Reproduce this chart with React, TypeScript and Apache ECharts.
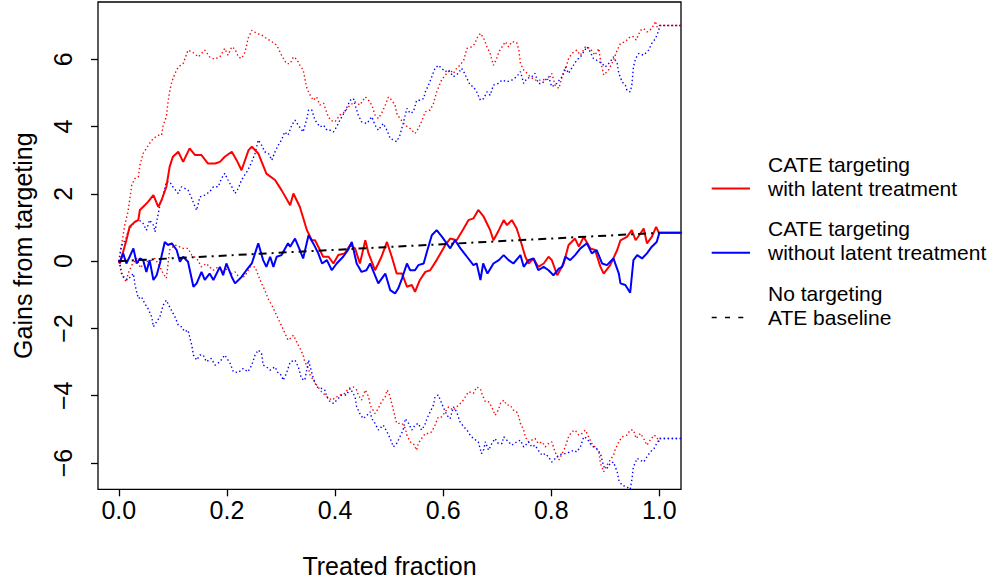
import React, { useEffect, useRef } from "react";
import * as echarts from "echarts";

// ---- data ----
const redSolidX = [0, 0.002, 0.014, 0.02, 0.03, 0.036, 0.039, 0.048, 0.054, 0.064, 0.073, 0.079, 0.088, 0.094, 0.1, 0.11, 0.119, 0.131, 0.141, 0.153, 0.165, 0.178, 0.187, 0.196, 0.209, 0.218, 0.227, 0.24, 0.246, 0.258, 0.273, 0.289, 0.301, 0.317, 0.323, 0.335, 0.348, 0.357, 0.363, 0.372, 0.378, 0.388, 0.397, 0.406, 0.418, 0.428, 0.437, 0.446, 0.456, 0.462, 0.474, 0.486, 0.496, 0.505, 0.514, 0.524, 0.533, 0.542, 0.548, 0.557, 0.567, 0.576, 0.588, 0.604, 0.613, 0.625, 0.638, 0.647, 0.656, 0.665, 0.675, 0.684, 0.687, 0.693, 0.703, 0.712, 0.718, 0.727, 0.736, 0.743, 0.752, 0.758, 0.767, 0.776, 0.786, 0.795, 0.801, 0.811, 0.823, 0.832, 0.844, 0.851, 0.86, 0.872, 0.881, 0.891, 0.897, 0.909, 0.922, 0.928, 0.94, 0.949, 0.956, 0.965, 0.971, 0.977, 0.986, 0.994, 0.999, 1.05];
const redSolidY = [0, -0.07, 0.62, 1.02, 1.17, 1.22, 1.52, 1.66, 1.76, 1.96, 1.61, 1.81, 2.21, 2.8, 3.1, 3.25, 2.95, 3.35, 3.15, 3.15, 2.9, 2.9, 2.95, 3.1, 3.25, 3.0, 2.7, 3.3, 3.4, 3.2, 2.6, 2.41, 2.11, 1.66, 2.01, 1.61, 0.92, 0.62, 0.62, 0.33, 0.13, 0.13, -0.07, 0.18, 0.23, 0.48, 0.38, -0.07, 0.62, 0.23, -0.27, 0.13, 0.57, 0.13, -0.37, -0.37, -0.76, -0.71, -0.91, -0.56, -0.32, -0.27, 0.03, 0.48, 0.67, 0.62, 0.97, 1.22, 1.27, 1.52, 1.32, 1.02, 0.92, 0.62, 0.92, 1.22, 1.07, 1.22, 0.97, 0.62, 0.13, -0.07, 0.08, -0.17, -0.07, 0.13, 0.03, -0.42, -0.07, 0.48, 0.67, 0.43, 0.72, 0.38, 0.33, -0.17, -0.37, -0.12, 0.33, 0.62, 0.72, 0.92, 0.62, 0.82, 0.97, 0.53, 0.72, 1.02, 0.84, 0.84];

const blueSolidX = [0, 0.002, 0.008, 0.014, 0.02, 0.027, 0.033, 0.039, 0.045, 0.051, 0.057, 0.064, 0.07, 0.076, 0.085, 0.091, 0.098, 0.107, 0.113, 0.119, 0.128, 0.138, 0.144, 0.153, 0.159, 0.168, 0.175, 0.187, 0.193, 0.199, 0.209, 0.215, 0.227, 0.236, 0.246, 0.252, 0.258, 0.267, 0.273, 0.28, 0.286, 0.292, 0.301, 0.313, 0.317, 0.326, 0.335, 0.341, 0.351, 0.36, 0.369, 0.376, 0.385, 0.394, 0.403, 0.415, 0.424, 0.431, 0.44, 0.449, 0.458, 0.465, 0.48, 0.493, 0.502, 0.511, 0.517, 0.524, 0.533, 0.539, 0.548, 0.554, 0.564, 0.57, 0.579, 0.588, 0.598, 0.613, 0.622, 0.632, 0.644, 0.656, 0.662, 0.669, 0.674, 0.682, 0.693, 0.703, 0.712, 0.721, 0.73, 0.743, 0.749, 0.758, 0.767, 0.776, 0.786, 0.795, 0.804, 0.814, 0.82, 0.826, 0.835, 0.844, 0.854, 0.866, 0.875, 0.884, 0.894, 0.903, 0.915, 0.925, 0.928, 0.937, 0.946, 0.952, 0.959, 0.968, 0.977, 0.986, 0.995, 1.0, 1.05];
const blueSolidY = [0, -0.02, 0.23, -0.07, 0.13, 0.38, -0.07, 0.08, 0.03, -0.32, 0.03, -0.56, -0.42, -0.07, 0.57, 0.48, 0.53, 0.33, -0.02, 0.13, -0.02, -0.76, -0.66, -0.32, -0.56, -0.37, -0.56, -0.17, -0.42, -0.07, -0.47, -0.66, -0.47, -0.27, -0.07, 0.23, 0.53, 0.03, -0.17, 0.13, -0.17, 0.13, 0.18, 0.53, 0.43, 0.67, 0.33, 0.08, 0.77, 0.52, 0.23, -0.07, 0.03, -0.27, -0.07, 0.13, 0.33, 0.57, -0.07, -0.32, -0.27, -0.07, -0.66, -0.37, -0.86, -0.96, -0.81, -0.51, -0.07, -0.27, -0.27, -0.12, -0.07, 0.28, 0.77, 0.92, 0.72, 0.38, 0.62, 0.38, 0.13, -0.12, -0.07, -0.56, -0.07, -0.37, -0.07, 0.03, 0.18, 0.03, -0.07, 0.18, -0.17, 0.03, 0.08, -0.27, -0.17, -0.27, -0.42, -0.22, -0.17, 0.13, 0.03, 0.18, 0.38, 0.53, 0.23, 0.33, -0.07, -0.12, 0.08, -0.37, -0.66, -0.71, -0.94, 0.03, 0.18, 0.08, 0.23, 0.43, 0.57, 0.84, 0.84];

const redUpperX = [0, 0.005, 0.011, 0.017, 0.024, 0.03, 0.036, 0.039, 0.045, 0.051, 0.057, 0.064, 0.073, 0.079, 0.082, 0.088, 0.091, 0.094, 0.098, 0.104, 0.11, 0.119, 0.128, 0.137, 0.147, 0.159, 0.168, 0.177, 0.187, 0.196, 0.202, 0.209, 0.215, 0.221, 0.227, 0.233, 0.236, 0.239, 0.246, 0.255, 0.264, 0.273, 0.283, 0.292, 0.301, 0.31, 0.317, 0.323, 0.329, 0.335, 0.341, 0.348, 0.354, 0.36, 0.366, 0.372, 0.379, 0.385, 0.391, 0.4, 0.409, 0.418, 0.428, 0.437, 0.446, 0.456, 0.462, 0.468, 0.474, 0.48, 0.486, 0.493, 0.499, 0.505, 0.511, 0.514, 0.52, 0.53, 0.539, 0.548, 0.554, 0.56, 0.567, 0.576, 0.582, 0.588, 0.597, 0.604, 0.613, 0.619, 0.625, 0.631, 0.638, 0.644, 0.653, 0.659, 0.662, 0.669, 0.675, 0.681, 0.687, 0.693, 0.699, 0.703, 0.709, 0.715, 0.721, 0.727, 0.736, 0.74, 0.743, 0.749, 0.755, 0.761, 0.77, 0.78, 0.789, 0.795, 0.801, 0.807, 0.814, 0.82, 0.826, 0.832, 0.838, 0.847, 0.854, 0.863, 0.872, 0.881, 0.888, 0.891, 0.897, 0.906, 0.915, 0.922, 0.928, 0.937, 0.946, 0.952, 0.957, 0.965, 0.971, 0.977, 0.986, 0.993, 0.995, 1.0, 1.05];
const redUpperY = [0, 0.48, 1.07, 1.47, 2.26, 2.46, 2.5, 2.85, 3.2, 3.35, 3.5, 3.65, 3.74, 3.74, 4.04, 4.29, 4.73, 5.03, 5.33, 5.58, 5.77, 5.87, 6.27, 6.2, 6.07, 6.27, 6.07, 6.0, 6.07, 6.32, 6.12, 6.37, 6.3, 6.07, 6.02, 6.2, 6.37, 6.62, 6.86, 6.77, 6.72, 6.62, 6.52, 6.42, 6.12, 5.87, 5.87, 6.07, 6.0, 5.82, 5.68, 5.13, 4.93, 4.78, 4.88, 4.64, 4.69, 4.39, 4.19, 4.14, 4.34, 4.44, 4.64, 4.73, 4.64, 4.88, 4.78, 4.64, 4.34, 4.24, 4.39, 4.64, 4.88, 4.78, 4.64, 4.39, 4.24, 4.04, 3.94, 3.79, 3.94, 4.14, 4.44, 4.49, 4.68, 5.03, 5.38, 5.53, 5.68, 5.58, 5.73, 5.82, 5.97, 6.32, 6.37, 6.47, 6.62, 6.77, 6.62, 6.37, 6.17, 5.82, 6.02, 6.22, 6.37, 6.52, 6.37, 6.52, 6.5, 6.27, 5.87, 5.68, 5.58, 5.48, 5.38, 5.38, 5.4, 5.4, 5.58, 5.23, 5.13, 5.48, 5.68, 6.02, 6.17, 6.27, 6.12, 6.37, 6.32, 6.12, 6.32, 5.97, 5.53, 5.68, 5.97, 6.27, 6.47, 6.52, 6.67, 6.67, 6.57, 6.86, 6.91, 6.81, 6.91, 7.13, 6.96, 7.0, 7.0];

const blueUpperX = [0, 0.005, 0.008, 0.014, 0.017, 0.024, 0.03, 0.039, 0.045, 0.051, 0.057, 0.064, 0.067, 0.07, 0.076, 0.082, 0.088, 0.094, 0.1, 0.11, 0.116, 0.122, 0.128, 0.135, 0.141, 0.144, 0.15, 0.159, 0.168, 0.175, 0.184, 0.19, 0.196, 0.202, 0.209, 0.215, 0.221, 0.227, 0.233, 0.239, 0.246, 0.252, 0.258, 0.264, 0.27, 0.277, 0.283, 0.289, 0.295, 0.301, 0.307, 0.313, 0.32, 0.326, 0.332, 0.341, 0.348, 0.351, 0.357, 0.363, 0.372, 0.379, 0.385, 0.391, 0.397, 0.403, 0.409, 0.418, 0.428, 0.434, 0.437, 0.443, 0.449, 0.459, 0.468, 0.474, 0.48, 0.489, 0.496, 0.502, 0.508, 0.514, 0.52, 0.526, 0.533, 0.539, 0.545, 0.551, 0.557, 0.564, 0.567, 0.573, 0.579, 0.585, 0.591, 0.597, 0.604, 0.61, 0.619, 0.628, 0.634, 0.638, 0.644, 0.65, 0.656, 0.662, 0.669, 0.675, 0.681, 0.687, 0.693, 0.702, 0.709, 0.718, 0.727, 0.736, 0.743, 0.749, 0.755, 0.764, 0.77, 0.776, 0.783, 0.789, 0.795, 0.801, 0.81, 0.82, 0.826, 0.832, 0.841, 0.847, 0.854, 0.86, 0.866, 0.872, 0.878, 0.884, 0.894, 0.9, 0.909, 0.915, 0.922, 0.925, 0.931, 0.937, 0.94, 0.946, 0.949, 0.952, 0.956, 0.962, 0.971, 0.98, 0.986, 0.993, 0.999, 1.0, 1.05];
const blueUpperY = [0, 0.45, 0.53, 0.7, 0.87, 1.07, 1.17, 1.2, 1.12, 0.92, 1.22, 1.07, 0.87, 1.17, 1.66, 1.96, 2.36, 2.36, 2.21, 2.01, 2.21, 2.16, 2.11, 1.86, 1.61, 1.51, 1.91, 1.96, 2.06, 2.21, 2.21, 2.46, 2.61, 2.41, 2.21, 2.01, 2.16, 2.41, 2.56, 2.71, 2.95, 3.2, 3.6, 3.45, 3.25, 3.2, 3.0, 3.25, 3.45, 3.6, 3.84, 3.74, 4.04, 4.19, 4.04, 3.84, 4.24, 4.49, 4.49, 4.19, 3.99, 4.04, 3.89, 3.89, 3.84, 3.99, 4.19, 4.44, 4.78, 4.83, 4.64, 4.34, 4.14, 4.09, 4.29, 4.04, 3.89, 4.09, 3.89, 3.65, 3.6, 3.55, 3.74, 4.09, 4.54, 4.39, 4.44, 4.78, 4.78, 4.83, 5.03, 5.23, 5.48, 5.73, 5.82, 5.73, 5.63, 5.68, 5.48, 5.58, 5.73, 5.63, 5.43, 5.23, 5.18, 5.03, 4.78, 4.83, 5.03, 4.93, 5.23, 5.28, 5.38, 5.33, 5.38, 5.48, 5.63, 5.28, 5.43, 5.48, 5.58, 5.28, 5.28, 5.38, 5.48, 5.18, 5.28, 5.48, 5.77, 5.58, 5.82, 5.97, 6.07, 6.22, 6.37, 6.22, 6.02, 5.97, 5.87, 5.77, 5.92, 6.07, 5.87, 5.58, 5.33, 5.23, 5.08, 5.03, 5.23, 5.77, 6.02, 6.17, 6.12, 6.27, 6.47, 6.62, 6.86, 7.0, 7.0];

const redLowerX = [0, 0.004, 0.008, 0.014, 0.017, 0.024, 0.033, 0.04, 0.048, 0.057, 0.067, 0.076, 0.082, 0.088, 0.094, 0.104, 0.112, 0.119, 0.128, 0.135, 0.144, 0.153, 0.162, 0.168, 0.175, 0.184, 0.193, 0.202, 0.209, 0.215, 0.224, 0.233, 0.243, 0.252, 0.258, 0.264, 0.27, 0.276, 0.283, 0.289, 0.298, 0.304, 0.313, 0.317, 0.323, 0.329, 0.335, 0.341, 0.344, 0.351, 0.354, 0.36, 0.366, 0.375, 0.385, 0.394, 0.403, 0.409, 0.418, 0.425, 0.434, 0.44, 0.443, 0.449, 0.456, 0.462, 0.465, 0.474, 0.48, 0.486, 0.493, 0.496, 0.5, 0.505, 0.511, 0.514, 0.524, 0.53, 0.533, 0.539, 0.545, 0.551, 0.554, 0.56, 0.567, 0.573, 0.579, 0.585, 0.591, 0.597, 0.604, 0.61, 0.619, 0.625, 0.635, 0.641, 0.647, 0.656, 0.662, 0.669, 0.672, 0.678, 0.684, 0.69, 0.696, 0.702, 0.706, 0.712, 0.718, 0.724, 0.73, 0.736, 0.74, 0.743, 0.749, 0.752, 0.758, 0.764, 0.77, 0.776, 0.783, 0.789, 0.795, 0.801, 0.807, 0.814, 0.82, 0.826, 0.832, 0.838, 0.844, 0.851, 0.857, 0.863, 0.869, 0.875, 0.881, 0.888, 0.891, 0.897, 0.903, 0.909, 0.915, 0.919, 0.925, 0.931, 0.94, 0.946, 0.952, 0.957, 0.965, 0.971, 0.977, 0.983, 0.99, 0.995, 0.999, 1.0, 1.05];
const redLowerY = [0, -0.27, -0.47, -0.62, -0.37, -0.12, 0.08, -0.2, -0.02, 0.0, 0.08, -0.17, -0.37, -0.51, 0.33, 0.48, 0.43, 0.38, 0.38, 0.18, 0.08, -0.17, -0.07, -0.17, -0.27, -0.17, -0.3, -0.22, -0.37, -0.32, -0.51, -0.45, -0.17, -0.17, -0.42, -0.66, -0.86, -1.11, -1.31, -1.51, -1.82, -2.02, -2.35, -2.3, -2.2, -2.4, -2.59, -2.79, -2.99, -3.19, -3.39, -3.54, -3.68, -3.88, -4.03, -4.13, -4.03, -3.98, -3.93, -3.78, -3.74, -3.83, -3.98, -4.13, -3.83, -4.03, -4.28, -4.53, -4.38, -4.18, -4.03, -3.83, -3.93, -4.23, -4.63, -4.82, -4.82, -4.97, -5.17, -5.37, -5.42, -5.62, -5.42, -5.27, -5.12, -5.12, -5.07, -4.87, -4.63, -4.63, -4.48, -4.33, -4.43, -4.33, -4.18, -4.03, -3.88, -3.93, -3.74, -3.8, -3.95, -4.18, -4.18, -4.33, -4.58, -4.43, -4.23, -4.13, -4.28, -4.28, -4.43, -4.48, -4.63, -4.82, -5.02, -5.22, -5.37, -5.32, -5.27, -5.42, -5.37, -5.52, -5.42, -5.37, -5.67, -5.91, -5.72, -5.52, -5.22, -5.07, -5.02, -5.17, -5.12, -5.02, -5.22, -5.42, -5.52, -5.67, -6.01, -6.26, -6.06, -5.91, -5.77, -5.57, -5.37, -5.22, -5.17, -5.02, -5.02, -5.27, -5.12, -5.27, -5.47, -5.32, -5.17, -5.22, -5.37, -5.27, -5.27];

const blueLowerX = [0, 0.002, 0.005, 0.011, 0.017, 0.024, 0.027, 0.03, 0.036, 0.042, 0.048, 0.054, 0.061, 0.064, 0.07, 0.076, 0.082, 0.088, 0.094, 0.104, 0.11, 0.116, 0.122, 0.128, 0.135, 0.138, 0.144, 0.15, 0.156, 0.162, 0.171, 0.178, 0.187, 0.196, 0.206, 0.212, 0.221, 0.23, 0.239, 0.246, 0.252, 0.258, 0.264, 0.267, 0.273, 0.28, 0.289, 0.295, 0.301, 0.304, 0.31, 0.317, 0.326, 0.332, 0.338, 0.344, 0.351, 0.354, 0.36, 0.366, 0.375, 0.381, 0.385, 0.391, 0.397, 0.403, 0.412, 0.421, 0.428, 0.437, 0.44, 0.446, 0.452, 0.459, 0.465, 0.468, 0.474, 0.48, 0.489, 0.496, 0.502, 0.508, 0.514, 0.52, 0.526, 0.53, 0.536, 0.542, 0.548, 0.554, 0.56, 0.566, 0.57, 0.576, 0.582, 0.585, 0.591, 0.6, 0.607, 0.613, 0.619, 0.625, 0.631, 0.638, 0.644, 0.65, 0.656, 0.665, 0.671, 0.675, 0.678, 0.684, 0.69, 0.696, 0.702, 0.709, 0.712, 0.721, 0.727, 0.736, 0.743, 0.749, 0.758, 0.764, 0.77, 0.776, 0.783, 0.789, 0.795, 0.801, 0.807, 0.814, 0.82, 0.826, 0.835, 0.841, 0.847, 0.854, 0.86, 0.866, 0.872, 0.878, 0.884, 0.891, 0.897, 0.903, 0.909, 0.915, 0.922, 0.925, 0.931, 0.94, 0.946, 0.949, 0.952, 0.959, 0.965, 0.971, 0.977, 0.983, 0.99, 0.995, 0.999, 1.0, 1.05];
const blueLowerY = [0, -0.07, -0.37, -0.51, -0.55, -0.42, -0.37, -0.71, -1.11, -1.06, -1.26, -1.41, -1.66, -1.95, -1.8, -1.66, -1.31, -1.16, -1.36, -1.66, -1.9, -1.95, -2.1, -2.05, -2.5, -2.79, -2.94, -2.79, -2.79, -2.99, -2.89, -3.09, -2.99, -2.79, -3.04, -3.29, -3.31, -3.19, -3.29, -3.09, -2.79, -2.64, -2.74, -3.09, -3.14, -3.24, -3.14, -3.34, -3.39, -3.54, -3.34, -3.0, -2.94, -3.14, -3.49, -3.54, -2.94, -3.14, -3.49, -3.74, -3.78, -3.83, -4.03, -4.18, -4.23, -4.13, -3.98, -3.98, -3.78, -4.03, -4.33, -4.53, -4.68, -4.58, -4.48, -4.68, -4.82, -5.02, -4.87, -5.07, -5.27, -5.52, -5.42, -5.22, -5.02, -4.68, -4.82, -5.02, -4.87, -4.82, -5.02, -4.87, -4.68, -4.48, -4.28, -4.03, -3.98, -4.33, -4.58, -4.68, -4.33, -4.48, -4.77, -4.92, -5.02, -5.17, -5.27, -5.37, -5.72, -5.6, -5.37, -5.62, -5.42, -5.27, -5.42, -5.42, -5.22, -5.37, -5.47, -5.37, -5.32, -5.52, -5.37, -5.52, -5.47, -5.62, -5.77, -5.72, -5.82, -5.97, -5.87, -5.77, -5.72, -5.72, -5.67, -5.62, -5.67, -5.52, -5.22, -5.27, -5.42, -5.52, -5.57, -5.72, -6.11, -6.16, -6.01, -5.97, -6.26, -6.51, -6.66, -6.71, -6.78, -6.51, -6.11, -5.86, -5.92, -5.97, -5.82, -5.67, -5.57, -5.42, -5.32, -5.27, -5.27];

const ateX = [0, 1];
const ateY = [0, 0.84];

const xTicks = [0, 0.2, 0.4, 0.6, 0.8, 1.0];
const yTicks = [-6, -4, -2, 0, 2, 4, 6];

const xTitle = "Treated fraction";
const yTitle = "Gains from targeting";
const legendItems = [
  { line1: "CATE targeting", line2: "with latent treatment" },
  { line1: "CATE targeting", line2: "without latent treatment" },
  { line1: "No targeting", line2: "ATE baseline" },
];

const RED = "#ff0000";
const BLUE = "#0000ff";
const FONT = "'Liberation Sans', Arial, Helvetica, sans-serif";
const FS = 21; // legend text
const AFS = 25; // axis labels and titles

const zip = (xs: number[], ys: number[]) => xs.map((x, i) => [x, ys[i]]);

export default function App() {
  const ref = useRef<HTMLDivElement>(null);
  useEffect(() => {
    if (!ref.current) return;
    const chart = echarts.init(ref.current, null, { renderer: "svg" });
    const dotted = (name: string, color: string, xs: number[], ys: number[]) => ({
      name,
      type: "line",
      data: zip(xs, ys),
      showSymbol: false,
      symbol: "none",
      silent: true,
      lineStyle: { color, width: 1.4, type: [1.4, 2.6], cap: "butt" },
      z: 2,
    });
    const solid = (name: string, color: string, xs: number[], ys: number[]) => ({
      name,
      type: "line",
      data: zip(xs, ys),
      showSymbol: false,
      symbol: "none",
      silent: true,
      lineStyle: { color, width: 2 },
      z: 3,
    });
    const legendTop = [165, 229.3, 294];
    const graphics: any[] = [];
    legendItems.forEach((it, i) => {
      const y1 = legendTop[i];
      const y2 = y1 + 23.5;
      graphics.push({
        type: "text",
        left: 768,
        top: y1 - 11,
        style: { text: it.line1, font: `${FS}px ${FONT}`, fill: "#000" },
      });
      graphics.push({
        type: "text",
        left: 768,
        top: y2 - 11,
        style: { text: it.line2, font: `${FS}px ${FONT}`, fill: "#000" },
      });
      const color = i === 0 ? RED : i === 1 ? BLUE : "#000";
      graphics.push({
        type: "line",
        shape: { x1: 711.7, y1: y2, x2: i === 2 ? 743.3 : 750, y2: y2 },
        style: {
          stroke: color,
          lineWidth: i === 2 ? 1.3 : 2,
          lineDash: i === 2 ? [5, 8.3] : null,
        },
      });
    });
    chart.setOption({
      animation: false,
      textStyle: { fontFamily: FONT },
      grid: {
        left: 98,
        right: 314,
        top: 2,
        bottom: 96.7,
        show: true,
        borderColor: "#000",
        borderWidth: 1.3,
        backgroundColor: "transparent",
        outerBoundsMode: "none",
        containLabel: false,
      },
      xAxis: {
        type: "value",
        min: -0.0385,
        max: 1.04,
        name: xTitle,
        nameLocation: "middle",
        nameGap: 64,
        nameTextStyle: { fontSize: AFS, color: "#000", fontFamily: FONT },
        axisLine: { show: false, onZero: false },
        splitLine: { show: false },
        axisTick: {
          show: true,
          length: 7,
          customValues: xTicks,
          lineStyle: { color: "#000", width: 1.3 },
        },
        axisLabel: {
          customValues: xTicks,
          formatter: (v: number) => v.toFixed(1),
          fontSize: AFS,
          color: "#000",
          fontFamily: FONT,
          margin: 8,
        },
      },
      yAxis: {
        type: "value",
        min: -6.78,
        max: 7.7,
        name: yTitle,
        nameLocation: "middle",
        nameGap: 63,
        nameRotate: 90,
        nameTextStyle: { fontSize: AFS, color: "#000", fontFamily: FONT },
        axisLine: { show: false, onZero: false },
        splitLine: { show: false },
        axisTick: {
          show: true,
          length: 7,
          customValues: yTicks,
          lineStyle: { color: "#000", width: 1.3 },
        },
        axisLabel: {
          customValues: yTicks,
          rotate: 90,
          formatter: (v: number) => (v < 0 ? "\u2212" + Math.abs(v) : String(v)),
          fontSize: AFS,
          color: "#000",
          fontFamily: FONT,
          margin: 23,
        },
      },
      series: [
        dotted("red upper", RED, redUpperX, redUpperY),
        dotted("red lower", RED, redLowerX, redLowerY),
        dotted("blue upper", BLUE, blueUpperX, blueUpperY),
        dotted("blue lower", BLUE, blueLowerX, blueLowerY),
        solid("CATE targeting with latent treatment", RED, redSolidX, redSolidY),
        solid("CATE targeting without latent treatment", BLUE, blueSolidX, blueSolidY),
        {
          name: "No targeting ATE baseline",
          type: "line",
          data: zip(ateX, ateY),
          showSymbol: false,
          symbol: "none",
          silent: true,
          lineStyle: { color: "#000", width: 2, type: [8, 5, 2, 5] },
          z: 4,
        },
      ],
      graphic: graphics,
    });
    return () => chart.dispose();
  }, []);
  return (
    <div
      ref={ref}
      style={{ position: "fixed", left: 0, top: 0, width: 995, height: 586, background: "#fff" }}
    />
  );
}
